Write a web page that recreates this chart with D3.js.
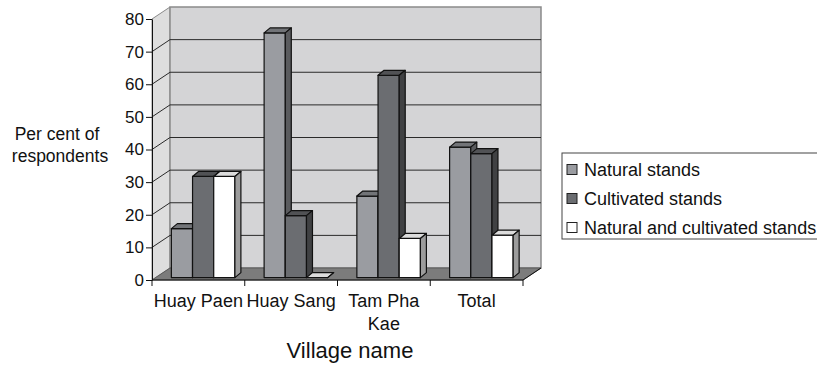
<!DOCTYPE html>
<html>
<head>
<meta charset="utf-8">
<script src="https://cdn.jsdelivr.net/npm/d3@7"></script>
<style>
    body { margin: 0; background: #fff; }
    svg { font-family: "Liberation Sans", Arial, sans-serif; }
</style>
</head>
<body>
<div id="chart"></div>
<script>
// data
const villages = ["Huay Paen", "Huay Sang", "Tam Pha Kae", "Total"];
const seriesNames = ["Natural stands", "Cultivated stands", "Natural and cultivated stands"];
const naturalStands = [15, 75, 25, 40];
const cultivatedStands = [31, 19, 62, 38];
const mixedStands = [31, 0, 12, 13];
const yTicks = [0, 10, 20, 30, 40, 50, 60, 70, 80];

const seriesValues = [naturalStands, cultivatedStands, mixedStands];
const faceColors = [
    { front: "#9a9ca1", top: "#727478", side: "#5a5b5e" },
    { front: "#6b6d71", top: "#515255", side: "#404143" },
    { front: "#ffffff", top: "#dcdcdc", side: "#9c9c9c" }
];

const width = 817, height = 366;
const depthX = 18, depthY = -12;       // floor / wall depth
const barDX = 6, barDY = -5;           // depth of each column
const barDepth = 0.2;                  // where columns stand on the floor

const svg = d3.select("#chart").append("svg")
    .attr("width", width)
    .attr("height", height);

const x = d3.scaleBand().domain(villages).range([152, 523]).padding(0);
const xs = d3.scaleBand().domain(seriesNames)
    .range([x.bandwidth() * 0.17, x.bandwidth() * 0.855]);
const y = d3.scaleLinear().domain([0, 80]).range([280, 19]);

const plotLeft = x.range()[0], plotRight = x.range()[1];
const plotBottom = y(0), plotTop = y(80);

// side wall
svg.append("polygon")
    .attr("points", [[plotLeft, plotBottom], [plotLeft, plotTop], [plotLeft + depthX, plotTop + depthY], [plotLeft + depthX, plotBottom + depthY]].join(" "))
    .attr("fill", "#dedede")
    .attr("stroke", "#8a8a8a");

// back wall
svg.append("rect")
    .attr("x", plotLeft + depthX)
    .attr("y", plotTop + depthY)
    .attr("width", plotRight - plotLeft)
    .attr("height", plotBottom - plotTop)
    .attr("fill", "#d4d4d6")
    .attr("stroke", "#8a8a8a")
    .attr("stroke-width", 1.5);

// gridlines
const grid = svg.append("g").attr("stroke", "#2a2a2a").attr("stroke-width", 1);
yTicks.filter(v => v > 0 && v < 80).forEach(v => {
    grid.append("line")
        .attr("x1", plotLeft + depthX).attr("x2", plotRight + depthX)
        .attr("y1", y(v) + depthY).attr("y2", y(v) + depthY);
    grid.append("line")
        .attr("x1", plotLeft).attr("x2", plotLeft + depthX)
        .attr("y1", y(v)).attr("y2", y(v) + depthY);
});

// floor
svg.append("polygon")
    .attr("points", [[plotLeft, plotBottom], [plotRight, plotBottom], [plotRight + depthX, plotBottom + depthY], [plotLeft + depthX, plotBottom + depthY]].join(" "))
    .attr("fill", "#7c7c7c")
    .attr("stroke", "#5a5a5a");
svg.append("line")
    .attr("x1", plotRight).attr("y1", plotBottom)
    .attr("x2", plotRight + depthX).attr("y2", plotBottom + depthY)
    .attr("stroke", "#111");

// columns
villages.forEach((v, i) => {
    seriesNames.forEach((s, j) => {
        const val = seriesValues[j][i];
        const w = xs.bandwidth();
        const bx = x(v) + xs(s) + barDepth * depthX;
        const b0 = y(0) + barDepth * depthY;
        const b1 = y(val) + barDepth * depthY;
        const g = svg.append("g").attr("stroke", "#111").attr("stroke-width", 1.2).attr("stroke-linejoin", "round");
        g.append("rect")
            .attr("x", bx).attr("y", b1)
            .attr("width", w).attr("height", b0 - b1)
            .attr("fill", faceColors[j].front);
        g.append("polygon")
            .attr("points", [[bx, b1], [bx + w, b1], [bx + w + barDX, b1 + barDY], [bx + barDX, b1 + barDY]].join(" "))
            .attr("fill", faceColors[j].top);
        g.append("polygon")
            .attr("points", [[bx + w, b1], [bx + w + barDX, b1 + barDY], [bx + w + barDX, b0 + barDY], [bx + w, b0]].join(" "))
            .attr("fill", faceColors[j].side);
    });
});

// y axis
const yAxis = d3.axisLeft(y).tickValues(yTicks).tickSize(6).tickSizeOuter(0).tickPadding(2);
const yAxisG = svg.append("g")
    .attr("transform", `translate(${plotLeft},0)`)
    .call(yAxis);
yAxisG.attr("font-size", null).attr("font-family", null);
yAxisG.selectAll("text").attr("font-size", 17).attr("fill", "#111");
yAxisG.selectAll("line, path").attr("stroke", "#111");

// x axis: front floor edge, boundary ticks, wrapped labels
svg.append("line")
    .attr("x1", plotLeft).attr("x2", plotRight)
    .attr("y1", plotBottom).attr("y2", plotBottom)
    .attr("stroke", "#111");
const bounds = villages.map(v => x(v)).concat([plotRight]);
svg.selectAll(".x-tick")
    .data(bounds)
    .enter()
    .append("line")
    .attr("class", "x-tick")
    .attr("x1", d => d).attr("x2", d => d)
    .attr("y1", plotBottom).attr("y2", plotBottom + 6)
    .attr("stroke", "#111");

const xLabels = svg.selectAll(".x-label")
    .data(villages)
    .enter()
    .append("text")
    .attr("class", "x-label")
    .attr("x", d => x(d) + x.bandwidth() / 2)
    .attr("y", 307)
    .attr("text-anchor", "middle")
    .attr("font-size", 18)
    .attr("fill", "#111");

xLabels.each(function (d) {
    const t = d3.select(this);
    const words = d.split(" ");
    let line = [];
    let tspan = t.append("tspan").attr("x", t.attr("x")).attr("dy", 0);
    words.forEach(word => {
        line.push(word);
        tspan.text(line.join(" "));
        if (tspan.node().getComputedTextLength() > x.bandwidth() - 1 && line.length > 1) {
            line.pop();
            tspan.text(line.join(" "));
            line = [word];
            tspan = t.append("tspan").attr("x", t.attr("x")).attr("dy", 23).text(word);
        }
    });
});

svg.append("text")
    .attr("x", 350)
    .attr("y", 358)
    .attr("text-anchor", "middle")
    .attr("font-size", 22)
    .attr("fill", "#111")
    .text("Village name");

// y title
const yTitle = svg.append("text")
    .attr("text-anchor", "middle")
    .attr("font-size", 17.5)
    .attr("fill", "#111");
yTitle.append("tspan").attr("x", 57).attr("y", 139.5).text("Per cent of");
yTitle.append("tspan").attr("x", 60).attr("y", 162).text("respondents");

// legend
const legend = svg.append("g").attr("transform", "translate(562,153)");
legend.append("rect")
    .attr("width", 256).attr("height", 86)
    .attr("fill", "#fff")
    .attr("stroke", "#444");
seriesNames.forEach((s, j) => {
    legend.append("rect")
        .attr("x", 5).attr("y", 11.5 + j * 29)
        .attr("width", 10).attr("height", 10)
        .attr("fill", faceColors[j].front)
        .attr("stroke", "#222");
    legend.append("text")
        .attr("x", 22).attr("y", 23 + j * 29)
        .attr("font-size", 18)
        .attr("fill", "#111")
        .text(s);
});
</script>
</body>
</html>
